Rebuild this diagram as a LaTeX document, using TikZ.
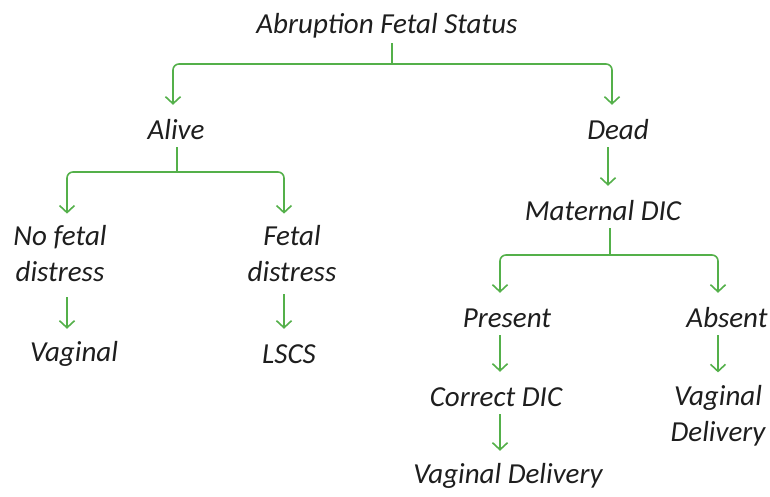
\documentclass[tikz,border=0pt]{standalone}
\usepackage{fontspec}
\setmainfont{Carlito}
\usetikzlibrary{arrows.meta}
\definecolor{grn}{RGB}{84,176,74}
\definecolor{ink}{RGB}{30,30,30}
\begin{document}
\begin{tikzpicture}[x=1pt,y=-1pt,
 lbl/.style={font=\itshape\fontsize{29}{36}\selectfont, text=ink, inner sep=0pt, minimum height=34pt, align=center},
 conn/.style={draw=grn, line width=1.6pt, rounded corners=6pt},
 arr/.style={conn, -{Straight Barb[length=7pt,width=15pt]}, shorten >=8pt}]
\useasboundingbox (0,0) rectangle (770,496);
\node[lbl] (root) at (387,26) {Abruption Fetal Status};
\node[lbl] (alive) at (176,130) {Alive};
\node[lbl] (dead) at (618,130) {Dead};
\node[lbl] (nofd) at (60,254) {No fetal\\distress};
\node[lbl] (fd) at (292,254) {Fetal\\distress};
\node[lbl] (vag1) at (74,354) {Vaginal};
\node[lbl] (lscs) at (289,354) {LSCS};
\node[lbl] (mdic) at (603,211) {Maternal DIC};
\node[lbl] (pres) at (507,318) {Present};
\node[lbl] (abs) at (727,318) {Absent};
\node[lbl] (cdic) at (496,397) {Correct DIC};
\node[lbl] (vd1) at (508,476) {Vaginal Delivery};
\node[lbl] (vd2) at (718,416) {Vaginal\\Delivery};
\coordinate (j1) at (392,64);
\coordinate (j2) at (177,172);
\coordinate (j3) at (610,255);
\draw[conn] (root.south -| j1) -- (j1);
\draw[arr] (j1) -| (alive.north -| 173,0);
\draw[arr] (j1) -| (dead.north -| 612,0);
\draw[conn] (alive.south -| j2) -- (j2);
\draw[arr] (j2) -| ([yshift=4pt]nofd.north -| 67,0);
\draw[arr] (j2) -| ([yshift=4pt]fd.north -| 284,0);
\draw[arr] ([yshift=-15pt]nofd.south -| 67,0) -- (vag1.north -| 67,0);
\draw[arr] ([yshift=-12pt]fd.south -| 284,0) -- (lscs.north -| 284,0);
\draw[arr] (dead.south -| 608,0) -- (mdic.north -| 608,0);
\draw[conn] (mdic.south -| j3) -- (j3);
\draw[arr] (j3) -| (pres.north -| 500,0);
\draw[arr] (j3) -| (abs.north -| 718,0);
\draw[arr] (pres.south -| 500,0) -- (cdic.north -| 500,0);
\draw[arr] (cdic.south -| 500,0) -- (vd1.north -| 500,0);
\draw[arr] (abs.south -| 718,0) -- ([yshift=5pt]vd2.north -| 718,0);
\end{tikzpicture}
\end{document}
